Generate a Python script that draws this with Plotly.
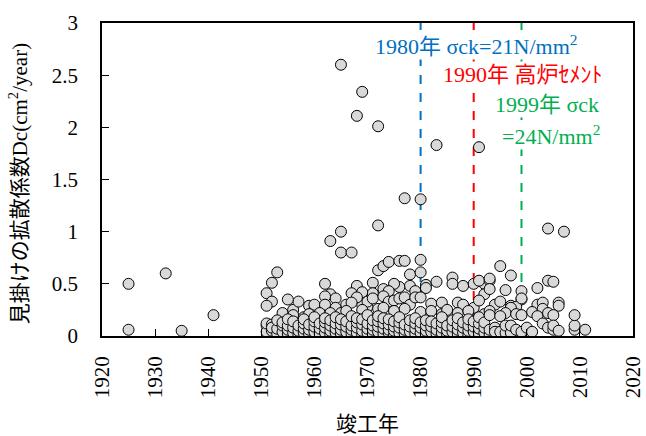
import plotly.graph_objects as go

# --- data: (completion year, apparent diffusion coefficient Dc) ---
early_year = [1925, 1925, 1932, 1935, 1941]
early_dc = [0.50, 0.06, 0.60, 0.05, 0.20]

high_year = [1965, 1969, 1968, 1972, 1983, 1991, 1977, 1980, 1972, 1965, 1963, 1965, 1967, 2004, 2007]
high_dc = [2.60, 2.34, 2.11, 2.01, 1.83, 1.81, 1.32, 1.31, 1.06, 1.00, 0.91, 0.80, 0.80, 1.03, 1.00]

mid_year = [1953, 1952, 1951, 1952, 1951, 1962, 1963, 1968, 1967, 1971, 1971, 1972, 1973,
            1974, 1976, 1977, 1978, 1978, 1976, 1975, 1973, 1974, 1980, 1980, 1981, 1981,
            1983, 1986, 1986, 1988, 1990, 1992, 1992, 1991, 1993, 1995, 1997, 1996, 1999,
            2002, 2004, 2005, 1993, 1993, 1979, 1969, 1968, 1964, 1962]
mid_dc = [0.61, 0.51, 0.41, 0.33, 0.29, 0.50, 0.40, 0.48, 0.41, 0.51, 0.41, 0.63, 0.67,
          0.71, 0.72, 0.72, 0.59, 0.48, 0.47, 0.50, 0.45, 0.43, 0.61, 0.73, 0.49, 0.46,
          0.52, 0.56, 0.50, 0.48, 0.50, 0.50, 0.40, 0.53, 0.53, 0.67, 0.58, 0.44, 0.43,
          0.46, 0.53, 0.52, 0.55, 0.45, 0.43, 0.42, 0.35, 0.36, 0.38]

band_year = [1954, 1956, 1956, 1959, 1960, 1960, 1962, 1966, 1969, 1970, 1970, 1968, 1967,
             1971, 1973, 1974, 1975, 1976, 1977, 1978, 1979, 1980, 1982, 1984, 1987, 1988,
             1990, 1991, 1994, 1995, 1997, 1999, 2002, 2003, 2006, 2006, 1998, 1997, 1999,
             2003, 1964, 1965, 1958, 1959, 1961, 1966, 1969, 1972, 1973, 1975, 1977, 1980,
             1982, 1984, 1985, 1987, 1989, 1992, 1993, 1996, 1998, 2001, 2004, 1953, 1957,
             1955, 1963]
band_dc = [0.22, 0.25, 0.20, 0.29, 0.25, 0.30, 0.30, 0.30, 0.30, 0.28, 0.33, 0.37, 0.32,
           0.36, 0.38, 0.33, 0.34, 0.36, 0.37, 0.30, 0.37, 0.37, 0.31, 0.32, 0.32, 0.30,
           0.27, 0.34, 0.30, 0.33, 0.29, 0.35, 0.30, 0.32, 0.32, 0.29, 0.28, 0.27, 0.36,
           0.26, 0.27, 0.22, 0.18, 0.21, 0.22, 0.24, 0.25, 0.26, 0.27, 0.24, 0.26, 0.23,
           0.24, 0.21, 0.25, 0.22, 0.24, 0.21, 0.24, 0.22, 0.21, 0.23, 0.22, 0.12, 0.33,
           0.35, 0.22]

low_year = [1951, 1951, 1951, 1952, 1952, 1952, 1953, 1953, 1953, 1954, 1954, 1954,
            1955, 1955, 1955, 1955, 1956, 1956, 1956, 1957, 1957, 1957,
            1958, 1958, 1958, 1958, 1959, 1959, 1959, 1960, 1960, 1960, 1960,
            1961, 1961, 1961, 1962, 1962, 1962, 1962, 1963, 1963, 1963, 1963,
            1964, 1964, 1964, 1964, 1965, 1965, 1965, 1965, 1966, 1966, 1966,
            1967, 1967, 1967, 1967, 1968, 1968, 1968, 1968, 1969, 1969, 1969, 1969,
            1970, 1970, 1970, 1970, 1971, 1971, 1971, 1971, 1972, 1972, 1972, 1972,
            1973, 1973, 1973, 1973, 1974, 1974, 1974, 1974, 1975, 1975, 1975, 1975,
            1976, 1976, 1976, 1976, 1977, 1977, 1977, 1978, 1978, 1978,
            1979, 1979, 1979, 1979, 1980, 1980, 1980, 1981, 1981, 1981, 1981,
            1982, 1982, 1982, 1983, 1983, 1983, 1984, 1984, 1984, 1984,
            1985, 1985, 1985, 1986, 1986, 1986, 1987, 1987, 1987, 1987,
            1988, 1988, 1988, 1989, 1989, 1989, 1989, 1990, 1990, 1990,
            1991, 1991, 1991, 1991, 1992, 1992, 1992, 1993, 1993, 1993,
            1994, 1994, 1995, 1995, 1996, 1996, 1997, 1997, 1998, 1999, 1999,
            2000, 2001, 2002, 2003, 2004, 2005, 2005, 2005, 2006, 2009, 2009, 2009, 2011]
low_dc = [0.10, 0.04, 0.12, 0.05, 0.11, 0.08, 0.02, 0.07, 0.15, 0.04, 0.10, 0.13,
          0.02, 0.06, 0.10, 0.16, 0.03, 0.08, 0.14, 0.01, 0.05, 0.10,
          0.03, 0.07, 0.12, 0.16, 0.02, 0.06, 0.11, 0.04, 0.09, 0.14, 0.18,
          0.02, 0.07, 0.12, 0.03, 0.08, 0.13, 0.17, 0.01, 0.05, 0.10, 0.15,
          0.03, 0.07, 0.12, 0.18, 0.02, 0.06, 0.11, 0.16, 0.04, 0.09, 0.14,
          0.02, 0.06, 0.10, 0.19, 0.03, 0.08, 0.13, 0.17, 0.01, 0.05, 0.11, 0.16,
          0.03, 0.07, 0.12, 0.20, 0.02, 0.06, 0.10, 0.15, 0.04, 0.09, 0.14, 0.19,
          0.02, 0.07, 0.12, 0.17, 0.03, 0.06, 0.11, 0.16, 0.01, 0.05, 0.09, 0.14,
          0.03, 0.08, 0.13, 0.18, 0.02, 0.06, 0.11, 0.04, 0.09, 0.15,
          0.02, 0.07, 0.12, 0.17, 0.03, 0.08, 0.13, 0.01, 0.05, 0.10, 0.15,
          0.04, 0.09, 0.14, 0.02, 0.06, 0.12, 0.03, 0.08, 0.13, 0.18,
          0.01, 0.05, 0.10, 0.04, 0.09, 0.15, 0.02, 0.06, 0.11, 0.17,
          0.03, 0.08, 0.13, 0.01, 0.05, 0.10, 0.16, 0.04, 0.09, 0.14,
          0.02, 0.07, 0.12, 0.18, 0.03, 0.08, 0.13, 0.01, 0.06, 0.20,
          0.08, 0.04, 0.04, 0.19, 0.03, 0.10, 0.03, 0.10, 0.06, 0.04, 0.20,
          0.08, 0.04, 0.19, 0.12, 0.08, 0.06, 0.20, 0.10, 0.05, 0.06, 0.10, 0.20, 0.06]

years = early_year + high_year + mid_year + band_year + low_year
dc = early_dc + high_dc + mid_dc + band_dc + low_dc

x_ticks = list(range(1920, 2021, 10))
y_ticks = [0, 0.5, 1, 1.5, 2, 2.5, 3]
y_tick_text = ["0", "0.5", "1", "1.5", "2", "2.5", "3"]

milestones = [1980, 1990, 1999]
milestone_colors = ["#0070C0", "#FF0000", "#00B050"]

SERIF = "Liberation Serif, Times New Roman, Noto Sans CJK JP, serif"

fig = go.Figure()
fig.add_trace(go.Scatter(
    x=years, y=dc, mode="markers",
    marker=dict(size=11, color="#D9D9D9", line=dict(color="#000000", width=1)),
    showlegend=False, hoverinfo="x+y",
))

for yr, col in zip(milestones, milestone_colors):
    fig.add_shape(type="line", x0=yr, x1=yr, y0=0, y1=3, xref="x", yref="y",
                  line=dict(color=col, width=2, dash="dash"), layer="below")

ann_font = 22
fig.add_annotation(x=1971.2, y=2.79, xref="x", yref="y", xanchor="left", yanchor="middle",
                   text="1980年 σck=21N/mm<sup>2</sup>", showarrow=False, bgcolor="white",
                   font=dict(family=SERIF, size=ann_font, color="#0070C0"), borderpad=0)
fig.add_annotation(x=1984.0, y=2.51, xref="x", yref="y", xanchor="left", yanchor="middle",
                   text="1990年 高炉ｾﾒﾝﾄ", showarrow=False, bgcolor="white",
                   font=dict(family=SERIF, size=ann_font, color="#FF0000"), borderpad=0)
fig.add_annotation(x=1993.8, y=2.22, xref="x", yref="y", xanchor="left", yanchor="middle",
                   text="1999年 σck", showarrow=False, bgcolor="white",
                   font=dict(family=SERIF, size=ann_font, color="#00B050"), borderpad=0)
fig.add_annotation(x=1995.2, y=1.93, xref="x", yref="y", xanchor="left", yanchor="middle",
                   text="=24N/mm<sup>2</sup>", showarrow=False, bgcolor="white",
                   font=dict(family=SERIF, size=ann_font, color="#00B050"), borderpad=0)

# y-axis title as a rotated annotation for exact placement
fig.add_annotation(x=-0.158, y=0.485, xref="paper", yref="paper",
                   xanchor="center", yanchor="middle", textangle=-90,
                   text="見掛けの拡散係数Dc(cm<sup>2</sup>/year)", showarrow=False,
                   font=dict(family=SERIF, size=21, color="#000000"))

fig.update_layout(
    width=646, height=436,
    margin=dict(l=102, r=13, t=23, b=100, autoexpand=False),
    plot_bgcolor="white", paper_bgcolor="white",
    font=dict(family=SERIF, size=21, color="#000000"),
    xaxis=dict(
        range=[1920, 2020], tickmode="array", tickvals=x_ticks,
        tickangle=-90, ticks="inside", ticklen=7, tickcolor="black",
        showline=True, linecolor="black", linewidth=1.5, mirror=True,
        showgrid=False, zeroline=False, ticklabelstandoff=10, automargin=False,
        ticklabeloverflow="allow",
        tickfont=dict(family=SERIF, size=21),
        title=dict(text="竣工年", font=dict(family=SERIF, size=21), standoff=24),
    ),
    yaxis=dict(
        range=[0, 3], tickmode="array", tickvals=y_ticks, ticktext=y_tick_text,
        ticks="inside", ticklen=7, tickcolor="black",
        showline=True, linecolor="black", linewidth=1.5, mirror=True,
        showgrid=False, zeroline=False, ticklabelstandoff=18, automargin=False,
        ticklabeloverflow="allow",
        tickfont=dict(family=SERIF, size=21),
    ),
)

fig.write_html("out.html", config={"displayModeBar": False},
               post_script="document.body.style.margin='0';document.body.style.overflow='hidden';")
